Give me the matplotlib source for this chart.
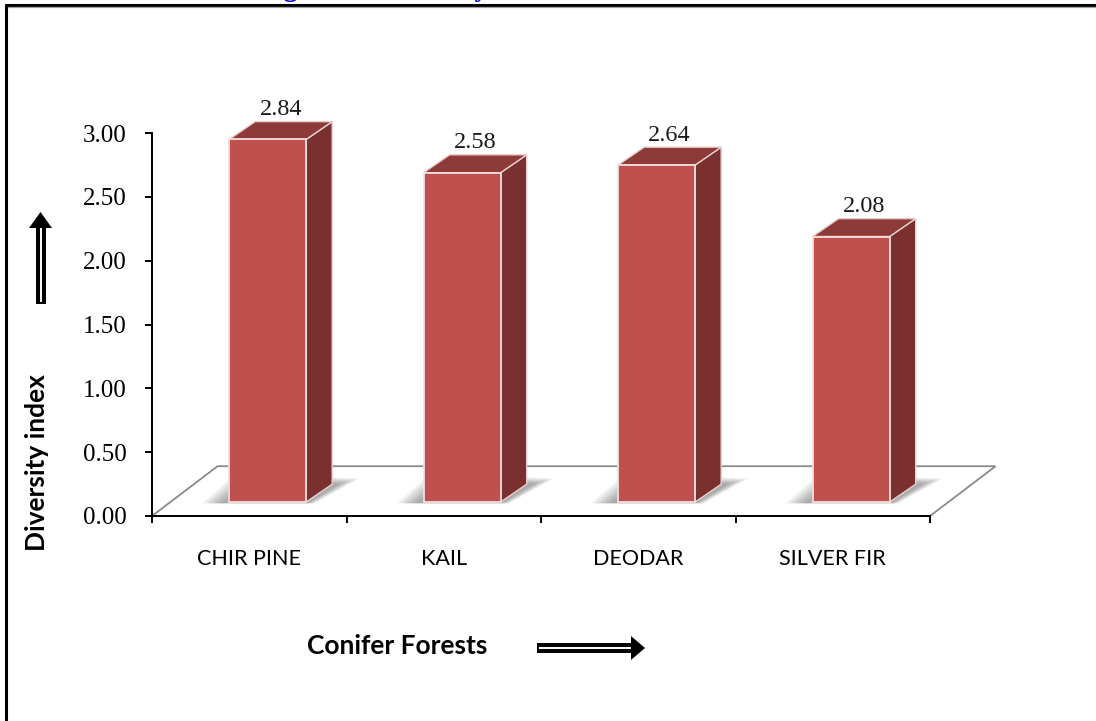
import numpy as np
import matplotlib.pyplot as plt
from matplotlib.patches import Polygon, Rectangle

# diversity index of the four conifer forest types
forests = ['CHIR PINE', 'KAIL', 'DEODAR', 'SILVER FIR']
diversity = [2.84, 2.58, 2.64, 2.08]
yticks = [0.0, 0.5, 1.0, 1.5, 2.0, 2.5, 3.0]

W, H = 1096, 721
SERIF = 'Liberation Serif'
SANS = 'Lato'

fig = plt.figure(figsize=(W / 100, H / 100), dpi=100)
fig.patch.set_facecolor('white')

# pixel overlay for the page frame and the arrows
dax = fig.add_axes([0, 0, 1, 1], zorder=-1)
dax.set_xlim(0, W)
dax.set_ylim(H, 0)
dax.axis('off')

ax = fig.add_axes([152 / W, 1 - 516 / H, (930 - 152) / W, (516 - 133) / H])
ax.set_xlim(-0.5, 3.5)
ax.set_ylim(0, 3)
ax.patch.set_visible(False)
for s in ['top', 'right']:
    ax.spines[s].set_visible(False)
for s in ['left', 'bottom']:
    ax.spines[s].set_linewidth(1.4)
    ax.spines[s].set_zorder(5)

# 3d floor
fdx, fdy = 0.337, 0.39
floor = Polygon([(-0.5, 0), (3.5, 0), (3.5 + fdx, fdy), (-0.5 + fdx, fdy)],
                closed=True, fc='white', ec='#8a8a8a', lw=1.3,
                clip_on=False, zorder=1)
ax.add_patch(floor)

# bar geometry (data units)
bw = 0.396
ox, oy = 0.28 * fdx, 0.28 * fdy
bx, by = 0.134, 0.14

for i, v in enumerate(diversity):
    x0 = i + ox - bw / 2
    y0 = oy
    # soft shadow on the floor
    for k in range(10):
        e = 0.11 * (1 - k / 10)
        ey = 0.09 * (1 - k / 10)
        sh = Polygon([(x0 - e - 0.03, y0 - 0.01), (x0 + bw + e * 0.4, y0 - 0.01),
                      (x0 + bw + bx + e + 0.03, y0 + by + ey * 0.5),
                      (x0 + bx - e * 0.6 - 0.03, y0 + by + ey)],
                     closed=True, fc='#3c3c3c', ec='none', alpha=0.05,
                     clip_on=False, zorder=2)
        ax.add_patch(sh)
    front = Rectangle((x0, y0), bw, v, fc='#C0504D', ec='#F3DEDD', lw=1.3,
                      clip_on=False, zorder=4)
    side = Polygon([(x0 + bw, y0), (x0 + bw + bx, y0 + by),
                    (x0 + bw + bx, y0 + v + by), (x0 + bw, y0 + v)],
                   closed=True, fc='#7B3030', ec='#E8CFCE', lw=1.0,
                   clip_on=False, zorder=3)
    top = Polygon([(x0, y0 + v), (x0 + bw, y0 + v),
                   (x0 + bw + bx, y0 + v + by), (x0 + bx, y0 + v + by)],
                  closed=True, fc='#8E3A38', ec='#E8CFCE', lw=1.0,
                  clip_on=False, zorder=3)
    ax.add_patch(side)
    ax.add_patch(top)
    ax.add_patch(front)
    ax.text(x0 + bw / 2 + bx / 2, y0 + v + by + 0.05, '%.2f' % v,
            ha='center', va='baseline', fontsize=17.5, family=SERIF,
            color='#1a1a1a', clip_on=False)

ax.set_yticks(yticks)
ax.set_yticklabels(['%.2f' % t for t in yticks], family=SERIF, fontsize=18)
ax.tick_params(axis='y', direction='out', length=5, width=1.4, pad=13)

ax.set_xticks(np.arange(-0.5, len(forests), 1.0))
ax.set_xticklabels([])
ax.tick_params(axis='x', which='major', direction='out', length=5, width=1.4)
ax.set_xticks(np.arange(len(forests)), minor=True)
ax.set_xticklabels(forests, minor=True, family=SANS, fontsize=15.5)
ax.tick_params(axis='x', which='minor', length=0, pad=24)

# axis titles
fig.text(37 / W, 1 - 463 / H, 'Diversity index', rotation=90, ha='center',
         va='center', fontsize=19, weight='bold', family=SANS)
fig.text(397 / W, 1 - 646 / H, 'Conifer Forests', ha='center', va='center',
         fontsize=19, weight='bold', family=SANS)

# up arrow beside the y title
dax.add_patch(Rectangle((35.5, 227), 10, 77, fc='black', ec='none'))
dax.plot([40.5, 40.5], [229, 301], color='white', lw=1.4)
dax.add_patch(Polygon([(29, 228), (52, 228), (40.5, 212)], closed=True,
                      fc='black', ec='none'))

# right arrow beside the x title
dax.add_patch(Rectangle((537, 643), 95, 10, fc='black', ec='none'))
dax.plot([540, 630], [648, 648], color='white', lw=1.4)
dax.add_patch(Polygon([(631, 636), (631, 660), (645, 648)], closed=True,
                      fc='black', ec='none'))

# page frame
dax.plot([5, W], [5, 5], color='black', lw=2.2, solid_capstyle='butt')
dax.plot([5, W], [7.3, 7.3], color='#a0a0a0', lw=0.9, solid_capstyle='butt')
dax.plot([6, 6], [4, H], color='black', lw=2.2, solid_capstyle='butt')

# caption running above the frame
fig.text(258 / W, 1 + 4 / H, 'Figure 3: Diversity', color='#1010E0',
         fontsize=20.7, weight='bold', family=SERIF, va='baseline')

fig.savefig('out.png', dpi=100)
